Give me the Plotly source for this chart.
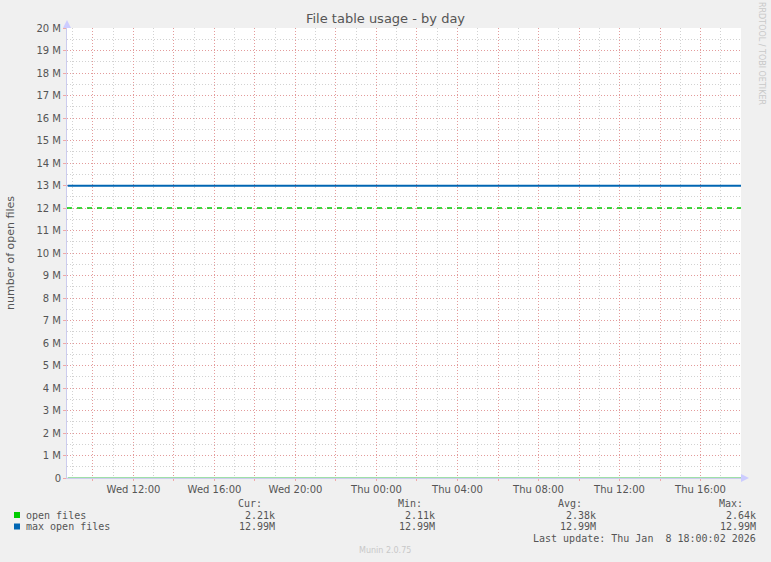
import plotly.graph_objects as go

# munin "file table usage - by day" data
times = ["2026-01-07 08:45", "2026-01-07 10:00", "2026-01-07 12:00", "2026-01-07 14:00",
         "2026-01-07 16:00", "2026-01-07 18:00", "2026-01-07 20:00", "2026-01-07 22:00",
         "2026-01-08 00:00", "2026-01-08 02:00", "2026-01-08 04:00", "2026-01-08 06:00",
         "2026-01-08 08:00", "2026-01-08 10:00", "2026-01-08 12:00", "2026-01-08 14:00",
         "2026-01-08 16:00", "2026-01-08 18:00"]
open_files = [2350, 2410, 2520, 2640, 2580, 2470, 2390, 2300, 2240,
              2160, 2110, 2180, 2330, 2480, 2560, 2450, 2320, 2210]
max_open_files = [12990000, 12990000, 12990000, 12990000, 12990000, 12990000,
                  12990000, 12990000, 12990000, 12990000, 12990000, 12990000,
                  12990000, 12990000, 12990000, 12990000, 12990000, 12990000]
warning_level = 12000000

x_range = ["2026-01-07 08:43", "2026-01-08 18:00"]
x_ticks = ["2026-01-07 10:00", "2026-01-07 12:00", "2026-01-07 14:00", "2026-01-07 16:00",
           "2026-01-07 18:00", "2026-01-07 20:00", "2026-01-07 22:00", "2026-01-08 00:00",
           "2026-01-08 02:00", "2026-01-08 04:00", "2026-01-08 06:00", "2026-01-08 08:00",
           "2026-01-08 10:00", "2026-01-08 12:00", "2026-01-08 14:00", "2026-01-08 16:00",
           "2026-01-08 18:00"]
x_labels = ["", "Wed 12:00", "", "Wed 16:00", "", "Wed 20:00", "", "Thu 00:00",
            "", "Thu 04:00", "", "Thu 08:00", "", "Thu 12:00", "", "Thu 16:00", ""]
y_ticks = [0, 1e6, 2e6, 3e6, 4e6, 5e6, 6e6, 7e6, 8e6, 9e6, 10e6,
           11e6, 12e6, 13e6, 14e6, 15e6, 16e6, 17e6, 18e6, 19e6, 20e6]
y_labels = ["0", "1 M", "2 M", "3 M", "4 M", "5 M", "6 M", "7 M", "8 M", "9 M", "10 M",
            "11 M", "12 M", "13 M", "14 M", "15 M", "16 M", "17 M", "18 M", "19 M", "20 M"]

series_names = ["open files", "max open files"]
series_colors = ["#00cc00", "#0066b3"]
cur_vals = ["2.21k", "12.99M"]
min_vals = ["2.11k", "12.99M"]
avg_vals = ["2.38k", "12.99M"]
max_vals = ["2.64k", "12.99M"]

W, H = 771, 562
L, R, T, B = 67, 741, 28, 478


def px(x):
    return (x - L) / (R - L)


def py(y):
    return (B - y) / (B - T)


RED = "rgba(240,110,110,0.55)"
GREY = "#d2d2d2"
TXT = "#555555"
MONO = "DejaVu Sans Mono"
SANS = "DejaVu Sans"

fig = go.Figure()
fig.add_trace(go.Scatter(x=times, y=max_open_files, mode="lines",
                         line=dict(color=series_colors[1], width=2), hoverinfo="skip"))
fig.add_trace(go.Scatter(x=x_range, y=[warning_level, warning_level], mode="lines",
                         line=dict(color=series_colors[0], width=1.5, dash="5px,5px"),
                         hoverinfo="skip"))
fig.add_trace(go.Scatter(x=times, y=open_files, mode="lines",
                         line=dict(color="#7fd68a", width=1.5), hoverinfo="skip"))

fig.update_layout(
    width=W, height=H, showlegend=False,
    paper_bgcolor="#f0f0f0", plot_bgcolor="white",
    margin=dict(l=L, r=W - R, t=T, b=H - B),
    font=dict(family=SANS, size=10, color=TXT),
    title=dict(text="File table usage - by day", x=0.5, xanchor="center",
               y=1 - 18 / H, yanchor="middle", font=dict(size=13, color=TXT)),
)
fig.update_xaxes(
    range=x_range, tickmode="array", tickvals=x_ticks, ticktext=x_labels,
    showgrid=True, gridcolor=RED, griddash="1px,2px", gridwidth=1,
    minor=dict(dtick=3600000, tick0="2026-01-07 09:00", showgrid=True,
               gridcolor=GREY, griddash="1px,2px", ticks=""),
    ticks="outside", ticklen=2, tickcolor=RED,
    showline=True, linecolor="#ccccee", zeroline=False,
    tickfont=dict(size=10, color=TXT),
)
fig.update_yaxes(
    range=[0, 20e6], tickmode="array", tickvals=y_ticks, ticktext=y_labels,
    showgrid=True, gridcolor=RED, griddash="1px,2px", gridwidth=1,
    minor=dict(dtick=500000, showgrid=True, gridcolor=GREY, griddash="1px,2px", ticks=""),
    ticks="outside", ticklen=3, tickcolor=RED,
    showline=True, linecolor="#ccccee", zeroline=False,
    tickfont=dict(size=10, color=TXT),
)

shapes = [
    # axis arrows
    dict(type="path", xref="paper", yref="paper", line=dict(width=0), fillcolor="#ccccff",
         path=f"M {px(63)} {py(28)} L {px(71)} {py(28)} L {px(67)} {py(20)} Z"),
    dict(type="path", xref="paper", yref="paper", line=dict(width=0), fillcolor="#ccccff",
         path=f"M {px(741)} {py(474)} L {px(741)} {py(482)} L {px(749)} {py(478)} Z"),
]
for i, c in enumerate(series_colors):
    yc = 515 + i * 11.5
    shapes.append(dict(type="rect", xref="paper", yref="paper", line=dict(width=0),
                       fillcolor=c, x0=px(14), x1=px(20), y0=py(yc - 3), y1=py(yc + 3)))
fig.update_layout(shapes=shapes)

ann = []


def note(x, y, text, xanchor="left", size=10, color=TXT, family=MONO, angle=0):
    ann.append(dict(x=px(x), y=py(y), xref="paper", yref="paper", text=text,
                    showarrow=False, xanchor=xanchor, yanchor="middle", textangle=angle,
                    font=dict(family=family, size=size, color=color)))


note(10, 253, "number of open files", xanchor="center", size=11, family=SANS, angle=-90)
note(762, 53, "RRDTOOL / TOBI OETIKER", xanchor="center", size=8, color="#c8c8c8",
     family=SANS, angle=90)
note(385, 550, "Munin 2.0.75", xanchor="center", size=8, color="#c8c8c8", family=SANS)

cols = [(264, 277, "Cur:", cur_vals), (424, 437, "Min:", min_vals),
        (584, 598, "Avg:", avg_vals), (745, 758, "Max:", max_vals)]
for hx, vx, head, vals in cols:
    note(hx, 503, head, xanchor="right")
    for i, v in enumerate(vals):
        note(vx, 515 + i * 11.5, v, xanchor="right")
for i, name in enumerate(series_names):
    note(24, 515 + i * 11.5, name)
note(758, 538, "Last update: Thu Jan\u00a0\u00a08 18:00:02 2026", xanchor="right")
fig.update_layout(annotations=ann)

# drop the page margin so the figure sits at the window corner
fig.write_html("out.html", config={"displayModeBar": False},
               post_script="document.body.style.margin='0';"
                           "document.body.style.background='#f0f0f0';")
